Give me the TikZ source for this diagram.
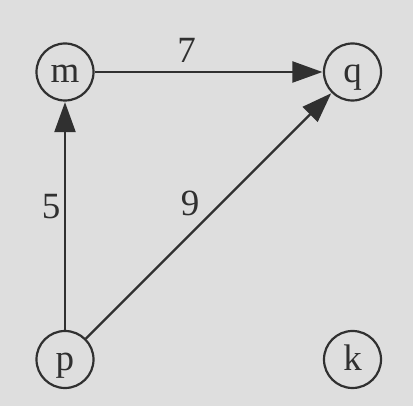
\documentclass[tikz,border=0pt]{standalone}
\usepackage{fontspec}
\setmainfont{Liberation Serif}
\newfontfamily\labelfont{Liberation Serif}
\usetikzlibrary{arrows.meta}
\definecolor{bg}{HTML}{DEDEDE}
\definecolor{ink}{HTML}{303030}
\begin{document}
\begin{tikzpicture}[x=1pt,y=1pt,
  vertex/.style={circle,draw=ink,line width=2.2pt,minimum size=57pt,inner sep=0pt,
    text=ink,font=\labelfont\fontsize{37}{40}\selectfont,text height=26pt,text depth=4pt},
  wlabel/.style={text=ink,font=\labelfont\fontsize{37}{40}\selectfont,inner sep=0pt},
  link/.style={draw=ink,line width=2.2pt,-{Triangle[length=30pt,width=21pt]},shorten >=0.5pt}]
\fill[bg] (0,0) rectangle (413,406);
\useasboundingbox (0,0) rectangle (413,406);
\node[vertex] (m) at (65,334) {m};
\node[vertex] (q) at (352.5,334) {q};
\node[vertex] (p) at (65,46.5) {p};
\node[vertex] (k) at (352.5,46.5) {k};
\draw[link] (m) -- (q);
\draw[link] (p) -- (m);
\draw[link] (p) -- (q);
\node[wlabel] (l7) at (186.5,355.5) {7};
\node[wlabel] (l5) at (51,199) {5};
\node[wlabel] (l9) at (190,203) {9};
\end{tikzpicture}
\end{document}
